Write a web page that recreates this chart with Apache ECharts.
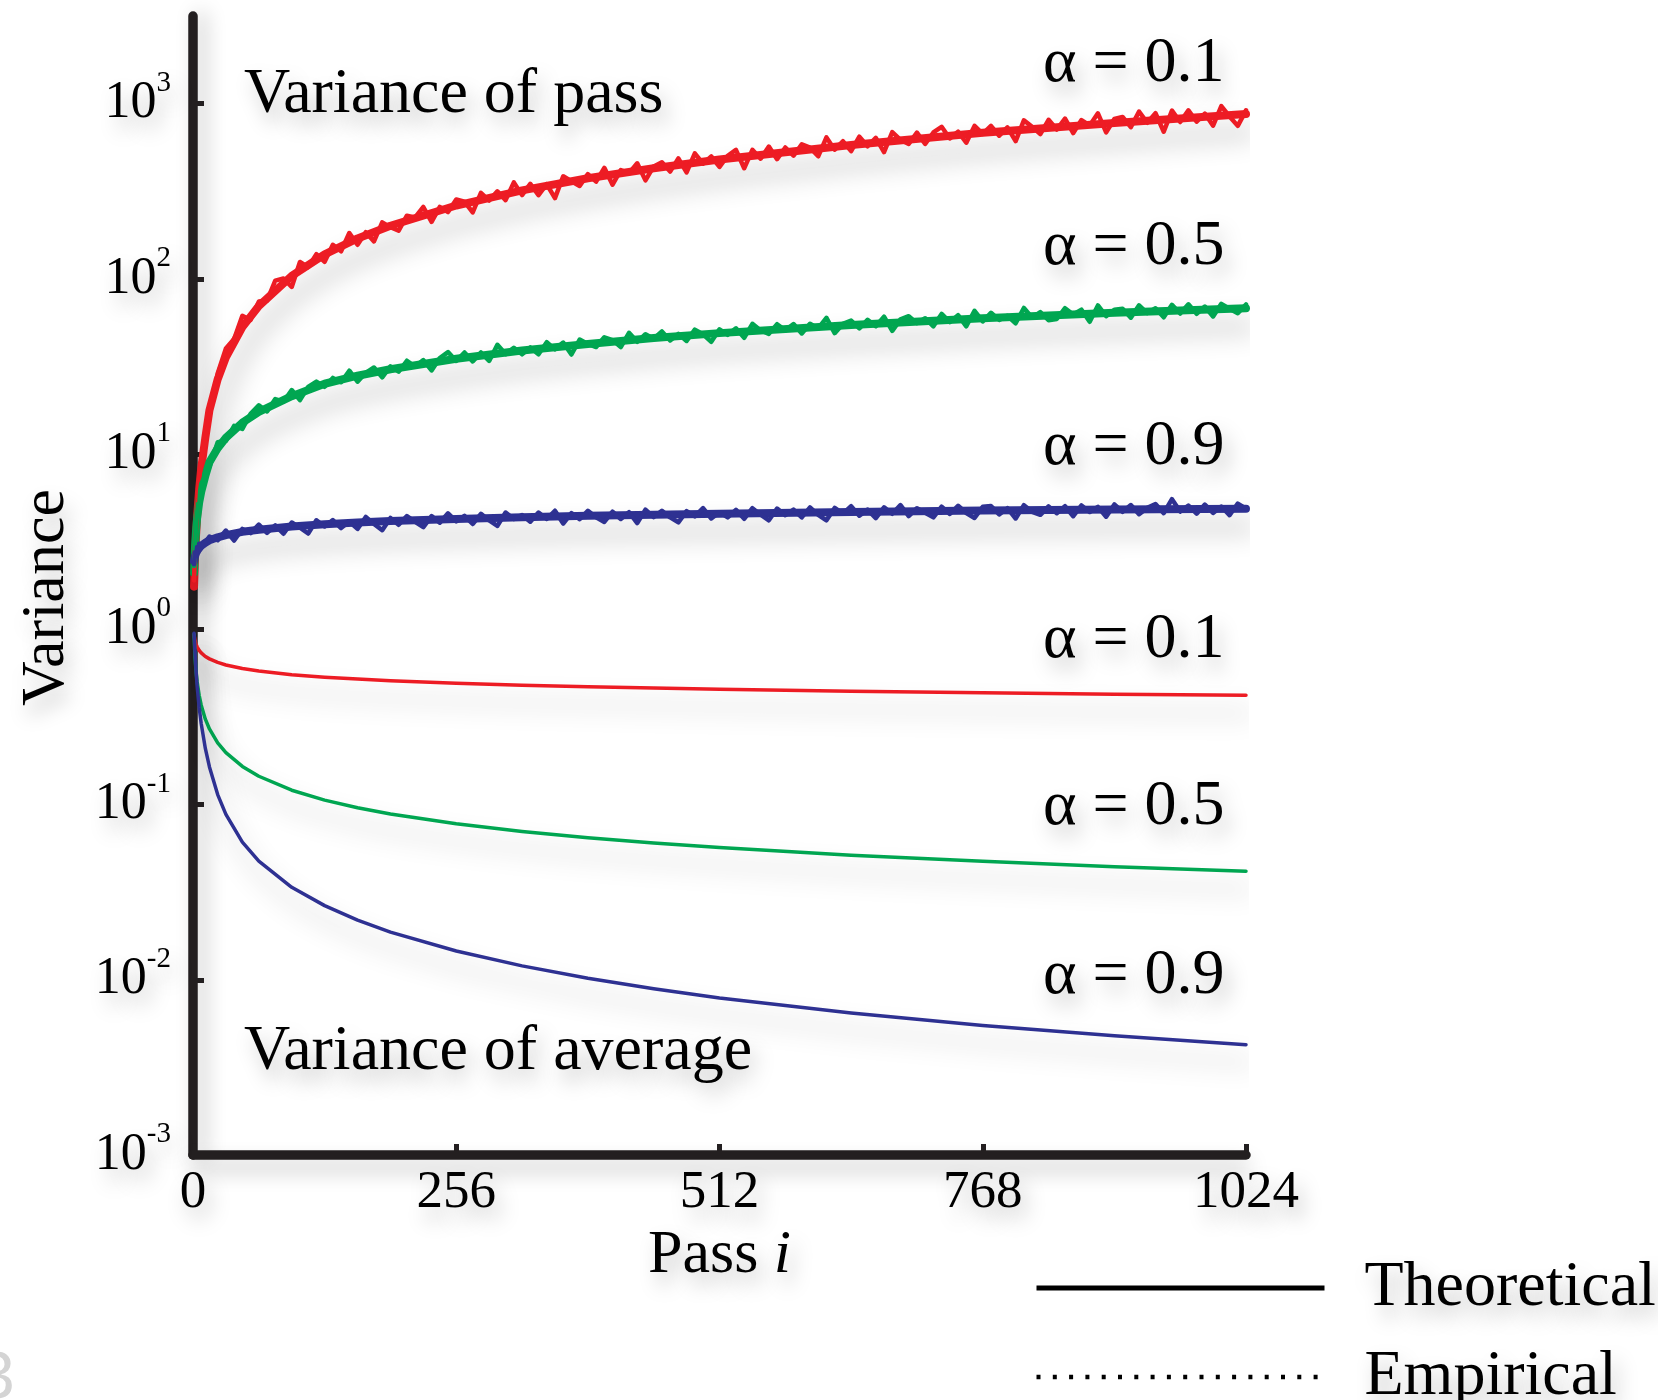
<!DOCTYPE html>
<html>
<head>
<meta charset="utf-8">
<script src="https://cdn.jsdelivr.net/npm/echarts@6/dist/echarts.min.js"></script>
<style>
  html, body { margin: 0; padding: 0; background: #ffffff; }
  #chart { width: 1658px; height: 1400px; }
</style>
</head>
<body>
<div id="chart"></div>
<script>
// ---- data -------------------------------------------------------------
// passes at which the theoretical curves are sampled
const passTheory = [1, 2, 3, 4, 6, 8, 12, 16, 24, 32, 48, 64, 96, 128, 160, 192, 256, 320, 384, 448, 512, 640, 768, 896, 1024];

// theoretical variance of a single pass
const passVarA01 = [1.75, 2.6, 3.45, 4.4, 6.3, 8.3, 12.4, 17.8, 26.7, 35.7, 53.0, 70.0, 104, 138, 170, 201, 262, 320, 375, 428, 480, 580, 682, 776, 872];
const passVarA05 = [2.1, 3.0, 3.7, 4.3, 5.3, 6.1, 7.5, 9.0, 10.8, 12.4, 15.1, 17.4, 21.4, 25.2, 28.0, 30.5, 35.0, 39.0, 42.5, 46.0, 49.0, 54.5, 59.5, 64.0, 68.0];
const passVarA09 = [2.45, 2.62, 2.73, 2.80, 2.92, 3.00, 3.12, 3.22, 3.35, 3.45, 3.60, 3.70, 3.86, 3.98, 4.07, 4.15, 4.26, 4.36, 4.44, 4.51, 4.57, 4.67, 4.76, 4.82, 4.88];

// theoretical variance of the running average
const avgVarA01 = [0.93, 0.861, 0.821, 0.795, 0.759, 0.734, 0.700, 0.678, 0.647, 0.626, 0.597, 0.578, 0.551, 0.533, 0.520, 0.509, 0.493, 0.480, 0.470, 0.462, 0.455, 0.443, 0.434, 0.4265, 0.420];
const avgVarA05 = [0.94, 0.689, 0.574, 0.504, 0.420, 0.369, 0.307, 0.270, 0.225, 0.198, 0.165, 0.145, 0.1207, 0.106, 0.0959, 0.0884, 0.0776, 0.0702, 0.0647, 0.0604, 0.0568, 0.0514, 0.0474, 0.0442, 0.0416];
const avgVarA09 = [0.95, 0.73, 0.573, 0.475, 0.358, 0.289, 0.209, 0.164, 0.114, 0.0878, 0.0610, 0.0475, 0.0337, 0.0265, 0.0219, 0.0187, 0.0146, 0.0120, 0.0102, 0.00888, 0.00788, 0.00646, 0.00549, 0.00479, 0.00426];

// passes of the measured (empirical) pass variance: 1..7, then every 8th pass
const empPass = [1, 2, 3, 4, 5, 6, 7].concat(Array.from({ length: 128 }, (_, k) => 8 * (k + 1)));

const empVarA01 = [1.9, 3.0, 3.8, 4.9, 5.6, 7.2, 7.1,
  9.1, 16.4, 28.8, 40.0, 45.4, 61.5, 58.3, 74.2,
  75.2, 97.7, 100.5, 89.9, 124.8, 116.7, 138.3, 125.1,
  156.5, 143.7, 182.7, 156.5, 184.5, 163.6, 210.2, 197,
  188.2, 229.3, 224.3, 257.1, 211.6, 257.4, 240.4, 283.8,
  275.5, 239.2, 309.2, 279.8, 315.8, 281.3, 355.1, 300.5,
  348.6, 300.4, 346.6, 289.0, 384.9, 360.6, 338.7, 396.4,
  358.8, 430.0, 344.7, 417.6, 400.8, 456.4, 364.6, 437.8,
  462.3, 409.2, 486.6, 404.6, 520.5, 454.5, 499.2, 435.0,
  503.9, 545.0, 427.9, 544.3, 485.0, 568.7, 481.6, 561.8,
  504.3, 586.4, 560.5, 500.4, 641.3, 546.2, 610.0, 535.4,
  647.2, 571.0, 637.2, 528.5, 687.6, 620.3, 589.0, 683.6,
  588.3, 684.8, 737.3, 632.6, 692.1, 598.1, 746.4, 671.3,
  746.6, 655.7, 732.0, 610.6, 802.3, 737.0, 670.5, 808.5,
  711.6, 822.3, 678.4, 805.6, 751.0, 880.7, 685.3, 816.4,
  838.8, 733.7, 900.3, 777.6, 881.6, 690.9, 911.7, 784.9,
  915.1, 788.2, 878.0, 748.0, 967.0, 844.5, 746.3, 915.6];

const empVarA05 = [2.3, 2.8, 4.0, 4.1, 5.2, 5.0, 6.2,
  6.78, 8.46, 11.7, 11.9, 14.5, 13.9, 17.0, 19.0,
  17.5, 20.6, 19.9, 23.2, 20.3, 24.2, 25.9, 24.2,
  27.2, 25.7, 29.9, 25.9, 29.1, 31.2, 27.4, 31.7,
  29.5, 34.1, 31.6, 34.4, 30.0, 35.3, 38.2, 34.0,
  38.0, 33.8, 38.0, 34.0, 42.0, 37.2, 40.4, 37.1,
  40.6, 37.1, 43.5, 39.6, 43.3, 37.0, 45.0, 42.5,
  40.8, 46.4, 44.7, 40.8, 49.2, 43.7, 48.3, 45.5,
  50.1, 44.5, 48.5, 44.2, 51.3, 48.3, 43.7, 51.5,
  47.9, 52.2, 46.1, 55.4, 50.8, 48.5, 55.1, 50.8,
  55.2, 48.8, 55.4, 52.1, 59.9, 49.0, 55.3, 57.8,
  52.1, 58.4, 53.7, 60.8, 50.5, 58.7, 61.2, 55.9,
  59.6, 53.6, 63.1, 56.6, 62.1, 53.6, 65.7, 57.1,
  64.0, 58.3, 61.6, 55.8, 68.2, 60.0, 64.6, 58.1,
  59.0, 68.0, 62.6, 66.7, 56.9, 70.5, 61.2, 66.6,
  67.5, 60.0, 70.6, 63.7, 67.9, 60.3, 71.1, 63.4,
  71.6, 63.2, 69.5, 61.0, 72.0, 67.5, 63.7, 71.4];

const empVarA09 = [2.35, 2.75, 2.62, 2.95, 2.74, 3.08, 2.85,
  2.79, 3.38, 3.22, 3.66, 3.21, 3.74, 3.54, 3.96,
  3.55, 3.92, 3.51, 4.07, 3.80, 3.52, 4.19, 3.86,
  4.20, 3.78, 4.12, 3.74, 4.38, 3.99, 3.68, 4.32,
  3.95, 4.43, 4.11, 3.83, 4.43, 4.06, 4.59, 4.13,
  4.44, 3.99, 4.56, 4.18, 3.89, 4.64, 4.26, 4.49,
  4.11, 4.64, 4.26, 4.75, 4.01, 4.60, 4.25, 4.75,
  4.36, 4.10, 4.69, 4.26, 4.66, 4.04, 4.82, 4.37,
  4.75, 4.35, 4.08, 4.72, 4.41, 4.91, 4.29, 4.66,
  4.35, 4.81, 4.27, 4.91, 4.51, 4.19, 4.89, 4.48,
  4.82, 4.35, 4.96, 4.50, 4.19, 4.93, 4.57, 5.04,
  4.45, 4.82, 4.31, 4.97, 4.56, 5.12, 4.43, 4.91,
  4.63, 4.35, 5.01, 4.55, 5.07, 4.61, 4.32, 5.00,
  5.05, 4.53, 4.91, 4.29, 5.11, 4.68, 4.50, 5.03,
  4.60, 5.04, 4.42, 5.09, 4.67, 5.00, 4.39, 5.16,
  4.68, 5.12, 4.54, 4.93, 5.18, 4.60, 5.53, 4.70,
  5.09, 4.57, 5.15, 4.62, 5.02, 4.48, 5.22, 4.88];

// axis ticks
const xTickValues = [0, 256, 512, 768, 1024];
const yTickValues = [0.001, 0.01, 0.1, 1, 10, 100, 1000];

// curve labels
const alphaLabels = ['α = 0.1', 'α = 0.5', 'α = 0.9'];

// ---- styling ----------------------------------------------------------
const FONT = '"Liberation Serif", "Times New Roman", Times, serif';
const INK = '#231f20';
const RED = '#ed1c24', GREEN = '#00a651', BLUE = '#2e3192';
const Y_MAX = Math.pow(10, 3.5);
const DOTS = [4, 12.3];   // dash pattern of the dotted "Empirical" key

const textShadow = {
  textShadowColor: 'rgba(0,0,0,0.26)', textShadowBlur: 20,
  textShadowOffsetX: 6, textShadowOffsetY: 12
};

function pairs(xs, ys) { return xs.map((x, i) => [x, ys[i]]); }

function theoryLine(name, color, xs, ys, width, label, dy) {
  const last = ys.length - 1;
  return {
    type: 'line', name: name, data: pairs(xs, ys),
    symbol: 'none', smooth: false,
    silent: true, animation: false, z: 3,
    itemStyle: { color: color },
    lineStyle: {
      color: color, width: width, cap: 'round', join: 'round',
      shadowColor: 'rgba(0,0,0,0.3)', shadowBlur: 26, shadowOffsetX: 6, shadowOffsetY: 18
    },
    markPoint: {
      silent: true, animation: false, symbol: 'circle', symbolSize: 1,
      itemStyle: { color: 'rgba(0,0,0,0)' },
      data: [{ coord: [xs[last], ys[last]] }],
      label: Object.assign({
        show: true, formatter: label, position: [-21, dy],
        align: 'right', verticalAlign: 'bottom',
        fontFamily: FONT, fontSize: 64, color: '#000'
      }, textShadow)
    }
  };
}

function empiricalLine(name, color, ys) {
  return {
    type: 'line', name: name, data: pairs(empPass, ys),
    symbol: 'none', silent: true, animation: false, z: 4,
    itemStyle: { color: color },
    lineStyle: { color: color, width: 4.5, join: 'round', cap: 'round' }
  };
}

const chart = echarts.init(document.getElementById('chart'), null, { renderer: 'canvas' });

chart.setOption({
  backgroundColor: '#ffffff',
  animation: false,
  grid: { left: 193, right: 412, top: 16, bottom: 245, containLabel: false, outerBoundsMode: 'none' },
  xAxis: {
    type: 'value', min: 0, max: 1024, interval: 256,
    name: '{n|Pass }{i|i}', nameLocation: 'middle', nameGap: 64,
    nameTextStyle: {
      rich: {
        n: Object.assign({ fontFamily: FONT, fontSize: 62, color: '#000' }, textShadow),
        i: Object.assign({ fontFamily: FONT, fontSize: 62, fontStyle: 'italic', color: '#000' }, textShadow)
      }
    },
    axisLine: { show: true, onZero: false, lineStyle: { color: INK, width: 9.5, cap: 'round',
      shadowColor: 'rgba(0,0,0,0.22)', shadowBlur: 20, shadowOffsetY: 12 } },
    axisTick: { show: true, inside: true, length: 11, customValues: xTickValues, lineStyle: { color: INK, width: 5 } },
    axisLabel: Object.assign({ margin: 12, fontFamily: FONT, fontSize: 53, color: '#000', customValues: xTickValues,
      formatter: function (v) { return String(v); } }, textShadow),
    splitLine: { show: false }
  },
  yAxis: {
    type: 'log', logBase: 10, min: 0.001, max: Y_MAX, splitNumber: 7,
    name: 'Variance', nameLocation: 'middle', nameGap: 115, nameRotate: 90, nameMoveOverlap: false,
    nameTextStyle: Object.assign({ fontFamily: FONT, fontSize: 62, color: '#000', padding: [0, 24, 0, 0] }, textShadow),
    axisLine: { show: true, lineStyle: { color: INK, width: 9.5, cap: 'round',
      shadowColor: 'rgba(0,0,0,0.22)', shadowBlur: 20, shadowOffsetX: 8 } },
    axisTick: { show: true, inside: true, length: 11, customValues: yTickValues, lineStyle: { color: INK, width: 5 } },
    axisLabel: {
      margin: 22, customValues: yTickValues,
      formatter: function (v) {
        const e = Math.round(Math.log10(v));
        return '{b|10}{e|' + e + '}';
      },
      rich: {
        b: Object.assign({ fontFamily: FONT, fontSize: 52, lineHeight: 70, color: '#000' }, textShadow),
        e: Object.assign({ fontFamily: FONT, fontSize: 29, lineHeight: 29, verticalAlign: 'top', color: '#000' }, textShadow)
      }
    },
    splitLine: { show: false }
  },
  legend: {
    orient: 'vertical', left: 1034, top: 1256, height: 300, padding: 0,
    itemWidth: 288, itemHeight: 44, itemGap: 25, selectedMode: false,
    itemStyle: { color: 'rgba(0,0,0,0)', borderWidth: 0, opacity: 0 },
    lineStyle: { width: 5 },
    data: [
      { name: 'Theoretical', lineStyle: { color: '#000', width: 5, type: 'solid' } },
      { name: 'Empirical', lineStyle: { color: '#000', width: 4.5, type: DOTS } }
    ],
    textStyle: Object.assign({ fontFamily: FONT, fontSize: 64, lineHeight: 60, color: '#000', padding: [0, 0, 0, 35] }, textShadow)
  },
  graphic: [
    { type: 'text', x: 244, y: 95, silent: true,
      style: Object.assign({ text: 'Variance of pass', fontFamily: FONT, fontSize: 64, fill: '#000',
        verticalAlign: 'middle', align: 'left' }, textShadow) },
    { type: 'text', x: 244, y: 1052, silent: true,
      style: Object.assign({ text: 'Variance of average', fontFamily: FONT, fontSize: 64, fill: '#000',
        verticalAlign: 'middle', align: 'left' }, textShadow) },
    { type: 'text', x: -22, y: 1380, silent: true,
      style: { text: '3', fontFamily: '"Liberation Sans", Arial, sans-serif', fontSize: 66, fill: '#d4d4d4',
        verticalAlign: 'middle', align: 'left' } }
  ],
  series: [
    theoryLine('avg α=0.1', RED, passTheory, avgVarA01, 3.5, alphaLabels[0], -23),
    theoryLine('avg α=0.5', GREEN, passTheory, avgVarA05, 3.5, alphaLabels[1], -32),
    theoryLine('avg α=0.9', BLUE, passTheory, avgVarA09, 3.5, alphaLabels[2], -36),
    theoryLine('pass α=0.1', RED, passTheory, passVarA01, 8, alphaLabels[0], -17),
    theoryLine('pass α=0.5', GREEN, passTheory, passVarA05, 8, alphaLabels[1], -29),
    theoryLine('pass α=0.9', BLUE, passTheory, passVarA09, 8, alphaLabels[2], -29),
    empiricalLine('measured α=0.1', RED, empVarA01),
    empiricalLine('measured α=0.5', GREEN, empVarA05),
    empiricalLine('measured α=0.9', BLUE, empVarA09),
    { type: 'line', name: 'Theoretical', data: [], symbol: 'none',
      itemStyle: { color: '#000' }, lineStyle: { color: '#000', width: 5 } },
    { type: 'line', name: 'Empirical', data: [], symbol: 'none',
      itemStyle: { color: '#000' }, lineStyle: { color: '#000', width: 4.5, type: DOTS } }
  ]
});
</script>
</body>
</html>
